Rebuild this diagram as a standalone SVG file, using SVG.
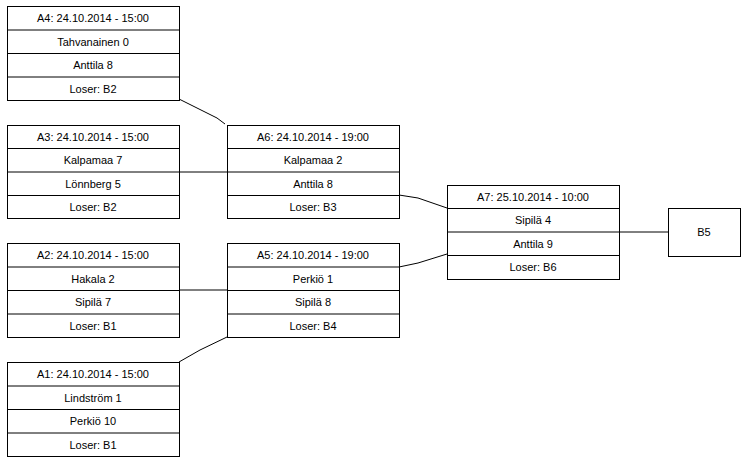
<svg xmlns="http://www.w3.org/2000/svg" width="745" height="462" viewBox="0 0 745 462">
<style>
.b{fill:#fff;stroke:#000;stroke-width:1}
.l{stroke:#000;stroke-width:1;fill:none}
text{font-family:"Liberation Sans",Arial,sans-serif;font-size:11px;text-anchor:middle;dominant-baseline:central;fill:#000}
</style>
<rect width="745" height="462" fill="#fff"/>
<g id="connectors" class="l">
<polyline points="179,99 195,107 217,118 225,124"/>
<line x1="179" y1="172" x2="227" y2="172"/>
<line x1="179" y1="290" x2="227" y2="290"/>
<polyline points="179,362 200,350 227,337"/>
<polyline points="399,195 418,198 447,208"/>
<polyline points="399,267 418,263 447,254"/>
<line x1="620" y1="232" x2="668" y2="232"/>
</g>
<g id="A4"><rect class="b" x="7.5" y="6.5" width="172" height="94"/><path class="l" d="M7.5 30H179.5M7.5 53.5H179.5M7.5 77H179.5"/>
<text x="93" y="18">A4: 24.10.2014 - 15:00</text><text x="93" y="41.5">Tahvanainen 0</text><text x="93" y="65">Anttila 8</text><text x="93" y="88.5">Loser: B2</text></g>
<g id="A3"><rect class="b" x="7.5" y="125.5" width="172" height="93"/><path class="l" d="M7.5 148.5H179.5M7.5 172H179.5M7.5 195.5H179.5"/>
<text x="93" y="137">A3: 24.10.2014 - 15:00</text><text x="93" y="160">Kalpamaa 7</text><text x="93" y="183.5">Lönnberg 5</text><text x="93" y="207">Loser: B2</text></g>
<g id="A2"><rect class="b" x="7.5" y="243.5" width="172" height="94"/><path class="l" d="M7.5 267H179.5M7.5 290.5H179.5M7.5 314H179.5"/>
<text x="93" y="255">A2: 24.10.2014 - 15:00</text><text x="93" y="278.5">Hakala 2</text><text x="93" y="302">Sipilä 7</text><text x="93" y="325.5">Loser: B1</text></g>
<g id="A1"><rect class="b" x="7.5" y="362.5" width="172" height="94"/><path class="l" d="M7.5 386H179.5M7.5 409.5H179.5M7.5 433H179.5"/>
<text x="93" y="374">A1: 24.10.2014 - 15:00</text><text x="93" y="397.5">Lindström 1</text><text x="93" y="421">Perkiö 10</text><text x="93" y="444.5">Loser: B1</text></g>
<g id="A6"><rect class="b" x="227.5" y="125.5" width="172" height="93"/><path class="l" d="M227.5 148.5H399.5M227.5 172H399.5M227.5 195.5H399.5"/>
<text x="313" y="137">A6: 24.10.2014 - 19:00</text><text x="313" y="160">Kalpamaa 2</text><text x="313" y="183.5">Anttila 8</text><text x="313" y="207">Loser: B3</text></g>
<g id="A5"><rect class="b" x="227.5" y="243.5" width="172" height="94"/><path class="l" d="M227.5 267H399.5M227.5 290.5H399.5M227.5 314H399.5"/>
<text x="313" y="255">A5: 24.10.2014 - 19:00</text><text x="313" y="278.5">Perkiö 1</text><text x="313" y="302">Sipilä 8</text><text x="313" y="325.5">Loser: B4</text></g>
<g id="A7"><rect class="b" x="447.5" y="185.5" width="172" height="94"/><path class="l" d="M447.5 208.5H619.5M447.5 232H619.5M447.5 255.5H619.5"/>
<text x="533" y="197">A7: 25.10.2014 - 10:00</text><text x="533" y="220">Sipilä 4</text><text x="533" y="243.5">Anttila 9</text><text x="533" y="267">Loser: B6</text></g>
<g id="B5"><rect class="b" x="668.5" y="208.5" width="72" height="48"/><text x="704" y="232">B5</text></g>
</svg>
